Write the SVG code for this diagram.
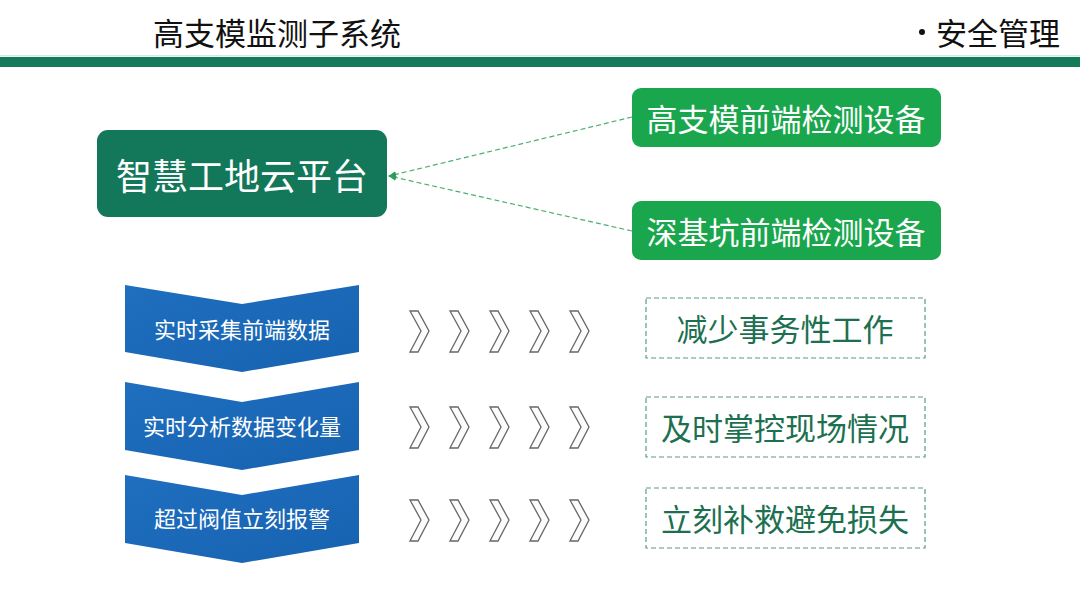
<svg xmlns="http://www.w3.org/2000/svg" width="1080" height="608" viewBox="0 0 1080 608">
<defs>
<style>
text{font-family:"Noto Sans CJK SC","Noto Sans",sans-serif;dominant-baseline:central;text-anchor:middle}
.hd{font-size:31px;fill:#111}
.ct{font-size:22px;fill:#fff}
.arr{fill:#fcfcfc;stroke:#666;stroke-width:1.3;stroke-linejoin:miter}
.db{fill:none;stroke:#5c9c7c;stroke-width:1.2;stroke-dasharray:5,3}
.dt{font-size:31px;fill:#1c7050}
.gb{fill:#1aa64c}
.gt{font-size:31px;fill:#fff}
.conn{fill:none;stroke:#4caf72;stroke-width:1.2;stroke-dasharray:5,3}
</style>
<marker id="ah" viewBox="0 0 10 10" refX="9" refY="5" markerWidth="8" markerHeight="8" orient="auto" markerUnits="userSpaceOnUse">
<path d="M0,1 L10,5 L0,9 z" fill="#2a9d5a"/>
</marker>
<linearGradient id="cg" x1="0" y1="0" x2="1" y2="1">
<stop offset="0" stop-color="#1f6fbf"/>
<stop offset="1" stop-color="#1662b0"/>
</linearGradient>
</defs>
<rect width="1080" height="608" fill="#ffffff"/>
<g id="header">
<text class="hd" x="277" y="31">高支模监测子系统</text>
<circle cx="922" cy="32" r="3" fill="#111"/>
<text class="hd" x="998" y="31">安全管理</text>
<rect x="0" y="55" width="1080" height="1.5" fill="#d6e8e0"/>
<rect x="0" y="57" width="1080" height="10" fill="#137a5c"/>
</g>
<g id="connectors">
<line class="conn" x1="632" y1="117" x2="389" y2="176" marker-end="url(#ah)"/>
<line class="conn" x1="632" y1="231" x2="389" y2="176" marker-end="url(#ah)"/>
</g>
<g id="platform">
<rect x="97" y="130" width="290" height="87" rx="11" fill="#13775a"/>
<text x="242" y="174" font-size="36" fill="#fff">智慧工地云平台</text>
</g>
<g id="device1">
<rect class="gb" x="632" y="88" width="309" height="59" rx="9"/>
<text class="gt" x="786" y="117">高支模前端检测设备</text>
</g>
<g id="device2">
<rect class="gb" x="632" y="201" width="309" height="59" rx="9"/>
<text class="gt" x="786" y="230">深基坑前端检测设备</text>
</g>
<g id="step1">
<polygon fill="url(#cg)" points="125,285 242,304 359,285 359,352 242,372 125,352"/>
<text class="ct" x="242" y="328">实时采集前端数据</text>
</g>
<g id="step2">
<polygon fill="url(#cg)" points="125,382 242,402 359,382 359,450 242,470 125,450"/>
<text class="ct" x="242" y="425">实时分析数据变化量</text>
</g>
<g id="step3">
<polygon fill="url(#cg)" points="125,475 242,495 359,475 359,543 242,563 125,543"/>
<text class="ct" x="242" y="517">超过阀值立刻报警</text>
</g>
<g id="arrows1">
<polygon class="arr" points="410,311 418,311 429,331 418,352 410,352 421,331"/>
<polygon class="arr" points="450,311 458,311 469,331 458,352 450,352 461,331"/>
<polygon class="arr" points="490,311 498,311 509,331 498,352 490,352 501,331"/>
<polygon class="arr" points="530,311 538,311 549,331 538,352 530,352 541,331"/>
<polygon class="arr" points="570,311 578,311 589,331 578,352 570,352 581,331"/>
</g>
<g id="arrows2">
<polygon class="arr" points="410,407 418,407 429,427 418,448 410,448 421,427"/>
<polygon class="arr" points="450,407 458,407 469,427 458,448 450,448 461,427"/>
<polygon class="arr" points="490,407 498,407 509,427 498,448 490,448 501,427"/>
<polygon class="arr" points="530,407 538,407 549,427 538,448 530,448 541,427"/>
<polygon class="arr" points="570,407 578,407 589,427 578,448 570,448 581,427"/>
</g>
<g id="arrows3">
<polygon class="arr" points="410,500 418,500 429,520 418,541 410,541 421,520"/>
<polygon class="arr" points="450,500 458,500 469,520 458,541 450,541 461,520"/>
<polygon class="arr" points="490,500 498,500 509,520 498,541 490,541 501,520"/>
<polygon class="arr" points="530,500 538,500 549,520 538,541 530,541 541,520"/>
<polygon class="arr" points="570,500 578,500 589,520 578,541 570,541 581,520"/>
</g>
<g id="result1">
<rect class="db" x="646" y="298" width="279" height="60"/>
<text class="dt" x="785" y="327">减少事务性工作</text>
</g>
<g id="result2">
<rect class="db" x="646" y="397" width="279" height="60"/>
<text class="dt" x="785" y="426">及时掌控现场情况</text>
</g>
<g id="result3">
<rect class="db" x="646" y="488" width="279" height="60"/>
<text class="dt" x="785" y="517">立刻补救避免损失</text>
</g>
</svg>
